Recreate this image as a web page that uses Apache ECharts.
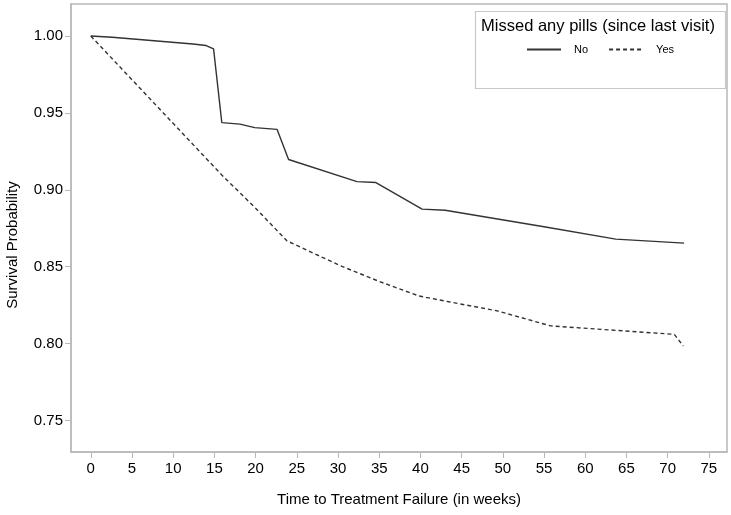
<!DOCTYPE html>
<html>
<head>
<meta charset="utf-8">
<script src="https://cdn.jsdelivr.net/npm/echarts@6/dist/echarts.min.js"></script>
<style>html,body{margin:0;padding:0;background:#fff;}#c{width:731px;height:515px;}</style>
</head>
<body>
<div id="c"></div>
<script>
// Kaplan-Meier style survival estimates
const seriesNames = ['No', 'Yes'];
const noPoints = [[0,1.0],[2.6,0.9992],[12.4,0.9948],[14.0,0.9938],[14.9,0.9916],[15.9,0.9437],[18.1,0.9427],[19.9,0.9404],[22.6,0.9393],[24.0,0.9197],[32.3,0.9053],[34.6,0.9047],[40.2,0.8874],[43.0,0.8867],[55.0,0.8760],[63.7,0.8679],[72.0,0.8653]];
const yesPoints = [[0,1.0],[15.9,0.9096],[20.0,0.888],[23.8,0.8668],[30.3,0.8506],[35.0,0.8404],[39.8,0.8310],[43.6,0.8270],[49.3,0.8213],[55.8,0.8115],[70.8,0.8060],[71.9,0.7984]];
const xTicks = [0,5,10,15,20,25,30,35,40,45,50,55,60,65,70,75];
const yTicks = [0.75,0.80,0.85,0.90,0.95,1.00];
const xTitle = 'Time to Treatment Failure (in weeks)';
const yTitle = 'Survival Probability';
const legendTitle = 'Missed any pills (since last visit)';

const chart = echarts.init(document.getElementById('c'), null, {renderer:'canvas'});
const font = 'Liberation Sans, Arial, sans-serif';
const axisGrey = '#b8b8b8';
const lineColor = '#333333';
chart.setOption({
  animation: false,
  backgroundColor: '#ffffff',
  grid: {left: 71, right: 4, top: 4, bottom: 63, show: true, borderColor: axisGrey, borderWidth: 1.5},
  xAxis: {
    type: 'value', min: -2.4, max: 77.2,
    axisLine: {show: true, onZero: false, lineStyle: {color: axisGrey, width: 1.5}},
    axisTick: {show: true, length: 6, customValues: xTicks, lineStyle: {color: axisGrey}},
    axisLabel: {customValues: xTicks, color: '#000', fontFamily: font, fontSize: 15, margin: 9},
    splitLine: {show: false},
    name: xTitle, nameLocation: 'middle', nameGap: 40,
    nameTextStyle: {color: '#000', fontFamily: font, fontSize: 15}
  },
  yAxis: {
    type: 'value', min: 0.7295, max: 1.0208,
    axisLine: {show: true, onZero: false, lineStyle: {color: axisGrey, width: 1.5}},
    axisTick: {show: true, length: 6, customValues: yTicks, lineStyle: {color: axisGrey}},
    axisLabel: {customValues: yTicks, color: '#000', fontFamily: font, fontSize: 15, margin: 8,
      formatter: v => v.toFixed(2)},
    splitLine: {show: false}
  },
  legend: {
    data: seriesNames, left: 521, top: 39, itemWidth: 34, itemHeight: 12, itemGap: 20,
    itemStyle: {opacity: 0},
    textStyle: {color: '#000', fontFamily: font, fontSize: 11, padding: [0, 0, 0, 8]}
  },
  graphic: [
    {type: 'rect', left: 473, top: 9, shape: {width: 250, height: 77},
      style: {fill: 'none', stroke: '#c8c8c8', lineWidth: 1.2}, z: 10},
    {type: 'text', x: 598, y: 26, z: 11,
      style: {text: legendTitle, fill: '#000', font: '16.5px ' + font, align: 'center', verticalAlign: 'middle'}},
    {type: 'text', x: 13, y: 245, rotation: Math.PI / 2, z: 11,
      style: {text: yTitle, fill: '#000', font: '15px ' + font, align: 'center', verticalAlign: 'middle'}}
  ],
  series: [
    {name: seriesNames[0], type: 'line', data: noPoints, showSymbol: false, symbol: 'none',
      lineStyle: {color: lineColor, width: 1.4, type: 'solid'}, itemStyle: {color: lineColor}},
    {name: seriesNames[1], type: 'line', data: yesPoints, showSymbol: false, symbol: 'none',
      lineStyle: {color: lineColor, width: 1.4, type: [4, 3]}, itemStyle: {color: lineColor}}
  ]
});
</script>
</body>
</html>
